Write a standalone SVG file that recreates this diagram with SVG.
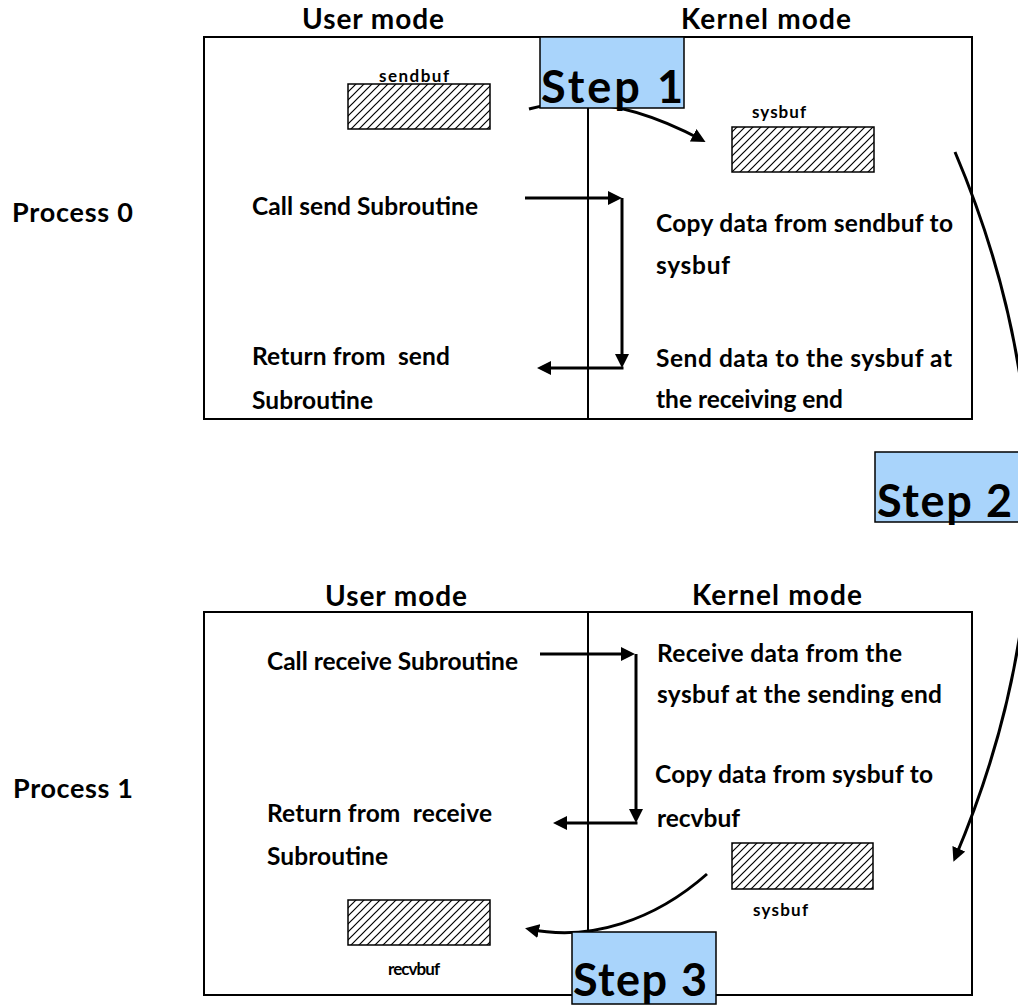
<svg xmlns="http://www.w3.org/2000/svg" width="1018" height="1007" viewBox="0 0 1018 1007">
  <style>
    text { font-family: "Lato", "Open Sans", sans-serif; font-weight: bold; fill: #000; white-space: pre; }
    .head { font-size: 28px; }
    .proc { font-size: 27px; }
    .body { font-size: 24.5px; }
    .small { font-size: 17px; }
    .step { font-size: 45px; }
    .frame { fill: #fff; stroke: #000; stroke-width: 2; }
    .divider { stroke: #000; stroke-width: 2; fill: none; }
    .buf { fill: url(#hatch); stroke: #000; stroke-width: 1.5; }
    .stepbox { fill: #a9d4fb; stroke: #000; stroke-width: 1.5; }
    .conn { fill: none; stroke: #000; stroke-width: 3; marker-end: url(#arrow); }
  </style>
  <defs>
    <pattern id="hatch" patternUnits="userSpaceOnUse" width="8" height="8">
      <path d="M0,8 L8,0 M-2,2 L2,-2 M6,10 L10,6" stroke="#000" stroke-width="1.2"/>
    </pattern>
    <marker id="arrow" viewBox="0 0 14 14" markerWidth="14" markerHeight="14" refX="10" refY="7" orient="auto" markerUnits="userSpaceOnUse">
      <path d="M0,0 L14,7 L0,14 z" fill="#000"/>
    </marker>
  </defs>

  <rect width="1018" height="1007" fill="#fff"/>

  <!-- Row labels -->
  <g id="label-process0"><text class="proc" x="12" y="222" textLength="121">Process 0</text></g>
  <g id="label-process1"><text class="proc" x="13" y="798" textLength="120">Process 1</text></g>

  <!-- Process 0 frame -->
  <g id="process0">
    <text class="head" x="302" y="29" textLength="142">User mode</text>
    <text class="head" x="681" y="29" textLength="170">Kernel mode</text>
    <rect class="frame" x="204" y="37" width="768" height="382"/>
    <line class="divider" x1="588" y1="37" x2="588" y2="419"/>
  </g>

  <g id="sendbuf">
    <text class="small" x="379" y="82" textLength="70">sendbuf</text>
    <rect class="buf" x="348" y="84" width="142" height="45"/>
  </g>
  <g id="sysbuf-send">
    <text class="small" x="752" y="118" textLength="54">sysbuf</text>
    <rect class="buf" x="732" y="127" width="142" height="45"/>
  </g>

  <g id="call-send"><text class="body" x="252" y="215" textLength="226">Call send Subroutine</text></g>
  <g id="return-send">
    <text class="body" x="252" y="365" textLength="198">Return from  send</text>
    <text class="body" x="252" y="409" textLength="121">Subroutine</text>
  </g>
  <g id="copy-send">
    <text class="body" x="656" y="232" textLength="297">Copy data from sendbuf to</text>
    <text class="body" x="656" y="274" textLength="74">sysbuf</text>
  </g>
  <g id="send-data">
    <text class="body" x="656" y="367" textLength="296">Send data to the sysbuf at</text>
    <text class="body" x="656" y="408" textLength="187">the receiving end</text>
  </g>

  <!-- Process 1 frame -->
  <g id="process1">
    <text class="head" x="325" y="606" textLength="142">User mode</text>
    <text class="head" x="692" y="605" textLength="170">Kernel mode</text>
    <rect class="frame" x="204" y="612" width="768" height="383"/>
    <line class="divider" x1="588" y1="612" x2="588" y2="995"/>
  </g>

  <g id="call-receive"><text class="body" x="267" y="670" textLength="251">Call receive Subroutine</text></g>
  <g id="return-receive">
    <text class="body" x="267" y="822" textLength="225">Return from  receive</text>
    <text class="body" x="267" y="865" textLength="121">Subroutine</text>
  </g>
  <g id="receive-data">
    <text class="body" x="657" y="662" textLength="245">Receive data from the</text>
    <text class="body" x="657" y="703" textLength="285">sysbuf at the sending end</text>
  </g>
  <g id="copy-receive">
    <text class="body" x="655" y="783" textLength="278">Copy data from sysbuf to</text>
    <text class="body" x="657" y="827" textLength="83">recvbuf</text>
  </g>

  <g id="sysbuf-recv">
    <rect class="buf" x="732" y="843" width="141" height="46"/>
    <text class="small" x="753" y="916" textLength="55">sysbuf</text>
  </g>
  <g id="recvbuf">
    <rect class="buf" x="348" y="900" width="142" height="45"/>
    <text class="small" x="388" y="975" textLength="52">recvbuf</text>
  </g>

  <!-- Connectors -->
  <g id="connectors">
    <path class="conn" d="M529,109 Q605,88 702,140"/>
    <path class="conn" d="M525,198 H618"/>
    <path class="conn" d="M622,198 V364"/>
    <path class="conn" d="M623.5,368 H541"/>
    <path class="conn" d="M955,152 Q1105,505 955,858"/>
    <path class="conn" d="M540,654 H631"/>
    <path class="conn" d="M636,654 V819"/>
    <path class="conn" d="M637.5,823 H557"/>
    <path class="conn" d="M707,874 C655,920 590,942 529,929"/>
  </g>

  <!-- Step callouts -->
  <g id="step1">
    <rect class="stepbox" x="540" y="37" width="144" height="71"/>
    <text class="step" x="541" y="103" textLength="142">Step 1</text>
  </g>
  <g id="step2">
    <rect class="stepbox" x="875" y="452" width="150" height="70"/>
    <text class="step" x="877" y="517" textLength="135">Step 2</text>
  </g>
  <g id="step3">
    <rect class="stepbox" x="572" y="932" width="144" height="72"/>
    <text class="step" x="573" y="996" textLength="134">Step 3</text>
  </g>
</svg>
